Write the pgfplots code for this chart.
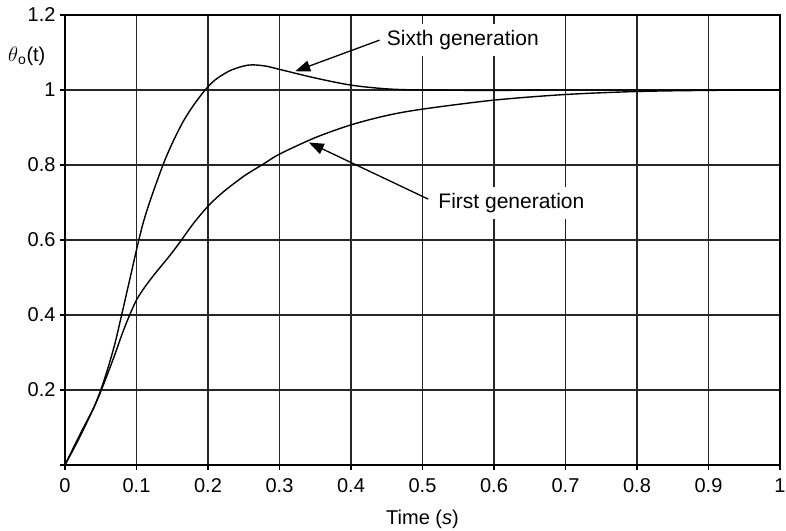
\documentclass[border=0pt]{standalone}
\usepackage{pgfplots}
\pgfplotsset{compat=1.18}
\usepackage{fontspec}
\setmainfont{Liberation Sans}
\usetikzlibrary{arrows.meta}
\pgfplotstableread{
x y
0 0
0.02 0.072
0.04 0.152
0.05 0.2
0.06 0.258
0.07 0.325
0.078 0.39
0.09 0.49
0.102 0.59
0.11 0.65
0.12 0.71
0.137 0.8
0.15 0.858
0.165 0.915
0.18 0.96
0.196 1.0
0.21 1.027
0.23 1.051
0.25 1.064
0.262 1.067
0.28 1.064
0.3 1.055
0.35 1.032
0.4 1.013
0.45 1.003
0.5 1.0
0.6 0.999
0.7 1.0
1.0 1.0
}\sixth
\pgfplotstableread{
x y
0 0
0.02 0.078
0.04 0.152
0.05 0.196
0.06 0.245
0.07 0.296
0.08 0.35
0.09 0.398
0.1 0.44
0.11 0.47
0.12 0.496
0.13 0.52
0.14 0.543
0.15 0.567
0.161 0.595
0.18 0.645
0.2 0.69
0.22 0.726
0.25 0.77
0.277 0.802
0.3 0.829
0.35 0.873
0.4 0.907
0.45 0.932
0.5 0.949
0.6 0.973
0.7 0.988
0.8 0.996
0.9 0.999
1.0 1.0
}\first
\begin{document}
\begin{tikzpicture}
\begin{axis}[
  scale only axis, width=715pt, height=450pt,
  xmin=0, xmax=1, ymin=0, ymax=1.2,
  xtick={0,0.1,0.2,0.3,0.4,0.5,0.6,0.7,0.8,0.9,1},
  xticklabels={0,0.1,0.2,0.3,0.4,0.5,0.6,0.7,0.8,0.9,1},
  ytick={0,0.2,0.4,0.6,0.8,1,1.2},
  yticklabels={,0.2,0.4,0.6,0.8,1,1.2},
  xtick pos=bottom, ytick pos=left,
  grid=major, grid style={line width=1.3pt, color=black!85},
  axis line style={line width=2.2pt},
  tick style={line width=1.5pt, black}, major tick length=5pt, tick align=outside,
  tick label style={font=\fontsize{20}{24}\selectfont},
  /pgf/number format/assume math mode=true,
  xticklabel style={anchor=base, yshift=-22pt},
  yticklabel style={anchor=east, xshift=-1pt},
  xlabel={Time (\textit{s})},
  xlabel style={font=\fontsize{20}{24}\selectfont, at={(axis description cs:0.5,0)}, anchor=base, yshift=-59pt},
]
\addplot[black, line width=1.4pt, smooth] table[x=x,y=y] {\sixth};
\addplot[black, line width=1.4pt, smooth] table[x=x,y=y] {\first};
\draw[line width=1.3pt, -{Triangle[length=15pt,width=11pt]}] (axis cs:0.44,1.133) -- (axis cs:0.322,1.05);
\draw[line width=1.3pt, -{Triangle[length=15pt,width=11pt]}] (axis cs:0.508,0.709) -- (axis cs:0.341,0.86);
\node[font=\fontsize{21}{25}\selectfont, anchor=west, fill=white, inner xsep=2pt, inner ysep=6pt, xshift=-2pt] at (axis cs:0.450,1.133) {Sixth generation};
\node[font=\fontsize{21}{25}\selectfont, anchor=west, fill=white, inner xsep=2pt, inner ysep=6pt, xshift=-2pt] at (axis cs:0.522,0.699) {First generation};
\end{axis}
\node[anchor=west, inner sep=0pt, font=\fontsize{20}{24}\selectfont] at (-57pt,409pt) {$\theta$\textsubscript{o}(t)};
\pgfresetboundingbox
\path[use as bounding box] (-65pt,-65pt) rectangle (721pt,465pt);
\end{tikzpicture}
\end{document}
